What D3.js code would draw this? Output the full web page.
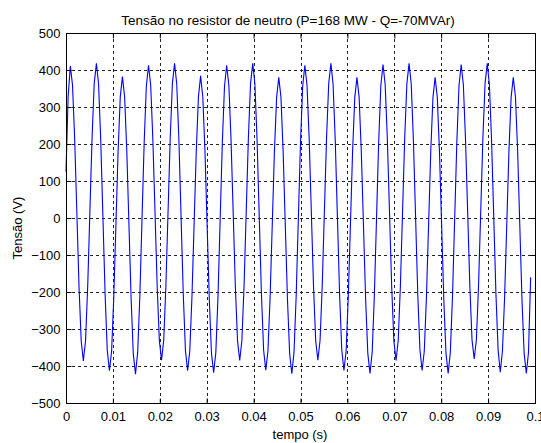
<!DOCTYPE html>
<html>
<head>
<meta charset="utf-8">
<script src="https://cdn.jsdelivr.net/npm/d3@7"></script>
<style>
  body { margin: 0; background: #fff; }
  text { font-family: "Liberation Sans", Arial, sans-serif; fill: #000; }
</style>
</head>
<body>
<div class="grafico"></div>
<script>
(function(){
// tensao no resistor de neutro, amostras a cada 0.1/216 s (12 por ciclo de 180 Hz)
var dt = 0.1 / 216;
var tensao = [125, 330,
  411, 359, 213, 14, -186, -332, -386, -331, -184, 17, 217, 364,
  418, 362, 210, 3, -205, -357, -413, -360, -214, -16, 182, 328,
  382, 327, 181, -20, -220, -368, -422, -364, -212, -4, 204, 356,
  413, 359, 213, 14, -186, -332, -384, -331, -184, 17, 217, 364,
  418, 362, 210, 3, -205, -357, -413, -360, -214, -16, 182, 328,
  384, 327, 181, -20, -220, -366, -418, -364, -212, -4, 204, 356,
  413, 359, 213, 14, -186, -332, -385, -331, -184, 17, 217, 364,
  418, 362, 210, 3, -204, -356, -411, -360, -214, -16, 182, 326,
  380, 326, 180, -20, -220, -366, -421, -364, -212, -4, 204, 356,
  413, 359, 213, 14, -186, -332, -384, -331, -184, 17, 217, 364,
  418, 362, 210, 3, -205, -356, -412, -360, -214, -16, 182, 326,
  380, 326, 180, -20, -220, -366, -420, -364, -212, -4, 205, 358,
  415, 360, 213, 14, -186, -332, -385, -331, -184, 17, 217, 364,
  418, 362, 210, 3, -205, -356, -412, -360, -214, -16, 182, 326,
  380, 326, 180, -20, -220, -366, -420, -364, -212, -4, 205, 358,
  415, 360, 212, 14, -185, -330, -381, -329, -183, 17, 216, 364,
  418, 361, 209, 3, -204, -355, -417, -360, -214, -16, 182, 326,
  380, 327, 181, -20, -220, -366, -420, -364, -160];

var xTicks = [0, 0.01, 0.02, 0.03, 0.04, 0.05, 0.06, 0.07, 0.08, 0.09, 0.1];
var xLabels = ['0', '0.01', '0.02', '0.03', '0.04', '0.05', '0.06', '0.07', '0.08', '0.09', '0.1'];
var yTicks = [-500, -400, -300, -200, -100, 0, 100, 200, 300, 400, 500];

var W = 541, H = 443;
var left = 66, right = 535, top = 33, bottom = 403;

var x = d3.scaleLinear().domain([0, 0.1]).range([left, right]);
var y = d3.scaleLinear().domain([-500, 500]).range([bottom, top]);

var svg = d3.select('.grafico').append('svg').attr('width', W).attr('height', H);

// grade pontilhada
svg.append('g').selectAll('line').data(xTicks.slice(1, -1)).enter()
  .append('line')
  .attr('x1', function(d){ return Math.round(x(d)) + 0.5; })
  .attr('x2', function(d){ return Math.round(x(d)) + 0.5; })
  .attr('y1', top).attr('y2', bottom)
  .style('stroke', '#222').style('stroke-dasharray', '3,3');

svg.append('g').selectAll('line').data(yTicks.slice(1, -1)).enter()
  .append('line')
  .attr('y1', function(d){ return Math.round(y(d)) + 0.5; })
  .attr('y2', function(d){ return Math.round(y(d)) + 0.5; })
  .attr('x1', left).attr('x2', right)
  .style('stroke', '#222').style('stroke-dasharray', '3,3');

// curva
var linha = d3.line()
  .x(function(d, i){ return x(i * dt); })
  .y(function(d){ return y(d); });

svg.append('path').datum(tensao)
  .attr('d', linha)
  .style('fill', 'none')
  .style('stroke', '#0000ff')
  .style('stroke-width', 1.1);

// eixos
var eixoX = d3.axisBottom(x).tickValues(xTicks).tickSizeInner(-5).tickSizeOuter(0)
  .tickFormat(function(d, i){ return xLabels[i]; }).tickPadding(8);
var eixoY = d3.axisLeft(y).tickValues(yTicks).tickSizeInner(-5).tickSizeOuter(0).tickPadding(6);
var eixoX2 = d3.axisTop(x).tickValues(xTicks).tickSizeInner(-5).tickSizeOuter(0).tickFormat('');
var eixoY2 = d3.axisRight(y).tickValues(yTicks).tickSizeInner(-5).tickSizeOuter(0).tickFormat('');

svg.append('g').attr('transform', 'translate(0,' + (bottom + 0.5) + ')').call(eixoX);
svg.append('g').attr('transform', 'translate(' + (left + 0.5) + ',0)').call(eixoY);
svg.append('g').attr('transform', 'translate(0,' + (top + 0.5) + ')').call(eixoX2);
svg.append('g').attr('transform', 'translate(' + (right + 0.5) + ',0)').call(eixoY2);

svg.selectAll('.domain').remove();
svg.selectAll('.tick text').style('font-size', '13px').style('font-family', '"Liberation Sans", Arial, sans-serif');
svg.selectAll('.tick line').style('stroke', '#000');

svg.append('rect')
  .attr('x', left + 0.5).attr('y', top + 0.5)
  .attr('width', right - left).attr('height', bottom - top)
  .style('fill', 'none').style('stroke', '#000');

// textos
svg.append('text').attr('x', 288).attr('y', 25).attr('text-anchor', 'middle')
  .style('font-size', '13.5px')
  .text('Tensão no resistor de neutro (P=168 MW - Q=-70MVAr)');

svg.append('text').attr('x', 300).attr('y', 439).attr('text-anchor', 'middle')
  .style('font-size', '13px')
  .text('tempo (s)');

svg.append('text').attr('transform', 'translate(22,228) rotate(-90)').attr('text-anchor', 'middle')
  .style('font-size', '13px')
  .text('Tensão (V)');
})();
</script>
</body>
</html>
